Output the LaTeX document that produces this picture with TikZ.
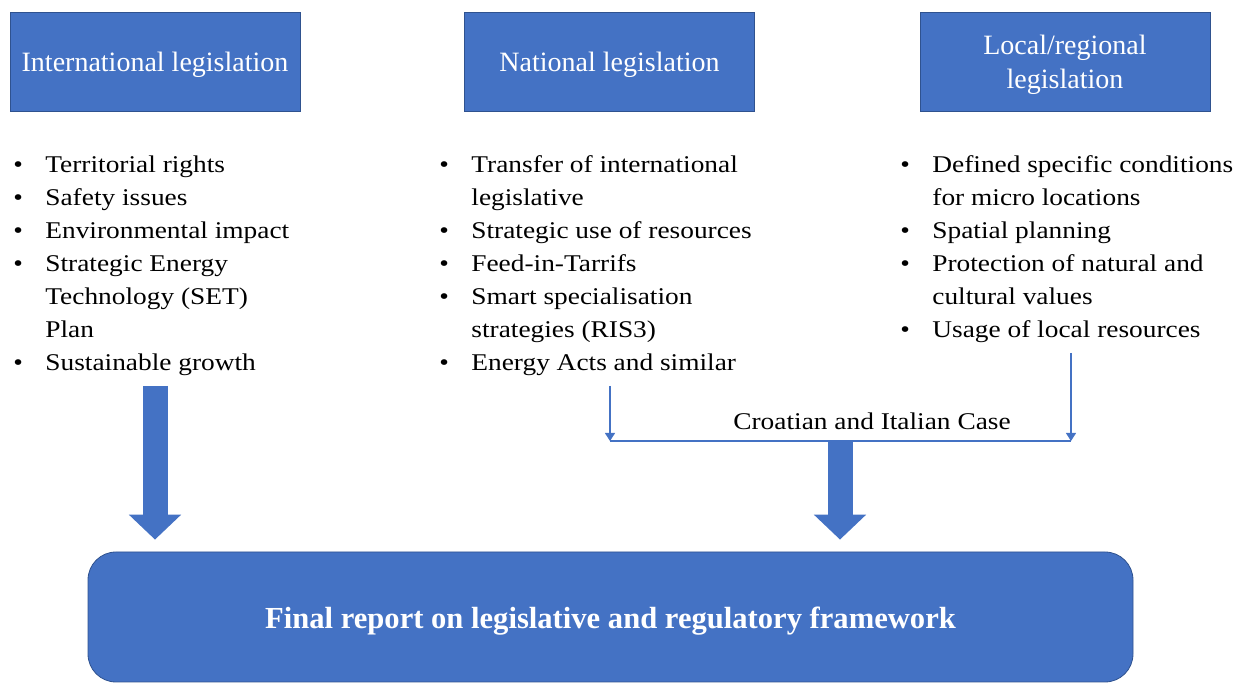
\documentclass[tikz,border=0pt]{standalone}
\usepackage{fontspec}
\setmainfont{Liberation Serif}
\newfontfamily\listfont{Liberation Serif}[FakeStretch=1.14]
\usetikzlibrary{arrows.meta,positioning}
\definecolor{boxblue}{HTML}{4472C4}
\definecolor{boxline}{HTML}{2F528F}

\begin{document}
\begin{tikzpicture}[x=0.5pt,y=-0.5pt,
  head/.style={draw=boxline, fill=boxblue, text=white, minimum width=145pt, minimum height=49.5pt, align=center, inner sep=0pt, text height=13pt, text depth=2.5pt, font=\fontsize{14}{17}\selectfont},
  list/.style={anchor=north west, inner sep=0pt, font=\listfont\fontsize{12}{16.5}\selectfont},
  thinarrow/.style={draw=boxblue, line width=0.6pt, -{Triangle[width=5pt,length=4pt]}},
  fatarrow/.style={draw=boxblue, line width=12.5pt, -{Triangle[width=25.5pt,length=12.5pt]}}]
\useasboundingbox (0,0) rectangle (1244,683);

% three levels of legislation
\node[head] (inthead) at (155,61.5) {International legislation};
\node[head] (nathead) at (609.5,61.5) {National legislation};
\node[head, text height=30pt] (lochead) at (1065,61.5) {Local/regional\\legislation};

% what each level covers
\node[list] (intlist) at (13,149) {\begin{tabular}{@{}p{16pt}@{}l@{}}
\textbullet & Territorial rights\\
\textbullet & Safety issues\\
\textbullet & Environmental impact\\
\textbullet & Strategic Energy\\
 & Technology (SET)\\
 & Plan\\
\textbullet & Sustainable growth
\end{tabular}};
\node[list] (natlist) at (439,149) {\begin{tabular}{@{}p{16pt}@{}l@{}}
\textbullet & Transfer of international\\
 & legislative\\
\textbullet & Strategic use of resources\\
\textbullet & Feed-in-Tarrifs\\
\textbullet & Smart specialisation\\
 & strategies (RIS3)\\
\textbullet & Energy Acts and similar
\end{tabular}};
\node[list] (loclist) at (900,149) {\begin{tabular}{@{}p{16pt}@{}l@{}}
\textbullet & Defined specific conditions\\
 & for micro locations\\
\textbullet & Spatial planning\\
\textbullet & Protection of natural and\\
 & cultural values\\
\textbullet & Usage of local resources
\end{tabular}};

% national and local meet in the case study
\coordinate (natend) at (610,441);
\coordinate (locend) at (1071,441);
\coordinate (caseout) at (840,441);
\node[font=\listfont\fontsize{12}{15}\selectfont] (case) at (872,421) {Croatian and Italian Case};
\draw[thinarrow] ([yshift=-2.5pt]natlist.south -| natend) -- (natend);
\draw[thinarrow] ([yshift=-2.5pt]loclist.south -| locend) -- (locend);
\draw[boxblue, line width=0.6pt] (natend) -- (locend);

% final report
\node[draw=boxline, fill=boxblue, text=white, rounded corners=14pt, minimum width=522.5pt, minimum height=65pt, inner sep=0pt, text height=14pt, text depth=2pt, font=\fontsize{15.3}{18}\selectfont\bfseries] (final) at (610.5,617) {Final report on legislative and regulatory framework};
\draw[fatarrow] ([yshift=-2.5pt]intlist.south -| inthead.south) -- ([yshift=6pt]final.north -| inthead.south);
\draw[fatarrow] (caseout) -- ([yshift=6pt]final.north -| caseout);
\end{tikzpicture}
\end{document}
